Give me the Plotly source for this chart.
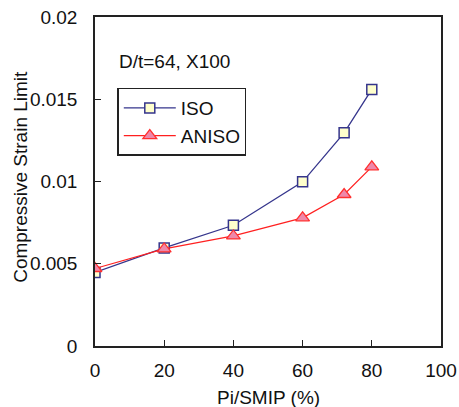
import plotly.graph_objects as go

x_iso = [0, 20, 40, 60, 72, 80]
y_iso = [0.00447, 0.00596, 0.00734, 0.00998, 0.01296, 0.0156]
x_aniso = [0, 20, 40, 60, 72, 80]
y_aniso = [0.00471, 0.0059, 0.00669, 0.00779, 0.00921, 0.01089]

y_ticks = [0, 0.005, 0.01, 0.015, 0.02]
y_ticktext = ["0", "0.005", "0.01", "0.015", "0.02"]
x_ticks = [0, 20, 40, 60, 80, 100]

font = "Liberation Sans, Arial, sans-serif"

fig = go.Figure()
fig.add_trace(go.Scatter(
    x=x_iso, y=y_iso, name="ISO", mode="lines+markers",
    line=dict(color="#35358C", width=1.3),
    marker=dict(symbol="square", size=10, color="#FFFFCC",
                line=dict(color="#35358C", width=1.5)),
))
fig.add_trace(go.Scatter(
    x=x_aniso, y=y_aniso, name="ANISO", mode="lines+markers",
    line=dict(color="#FF2020", width=1.2),
    marker=dict(symbol="triangle-up", size=12, color="#EE88AA",
                line=dict(color="#FF3030", width=1.3)),
))

fig.update_layout(
    width=459, height=407,
    margin=dict(l=95, r=18, t=17, b=61),
    paper_bgcolor="white", plot_bgcolor="white",
    font=dict(family=font, size=19, color="#111"),
    showlegend=True,
    legend=dict(x=0.065, y=0.785, xanchor="left", yanchor="top",
                bordercolor="#222", borderwidth=1.3, bgcolor="white",
                font=dict(size=19), tracegroupgap=0, itemwidth=52),
    annotations=[
        dict(text="D/t=64, X100", x=0.063, y=0.865, xref="paper", yref="paper",
             xanchor="left", yanchor="middle", showarrow=False, font=dict(size=19)),
        dict(text="Pi/SMIP (%)", x=0.5, y=-0.157, xref="paper", yref="paper",
             xanchor="center", yanchor="middle", showarrow=False, font=dict(size=19)),
        dict(text="Compressive Strain Limit", x=-0.215, y=0.513, xref="paper", yref="paper",
             xanchor="center", yanchor="middle", textangle=-90, showarrow=False,
             font=dict(size=19)),
    ],
)
fig.update_xaxes(
    range=[0, 100], tickvals=x_ticks, ticks="inside", ticklen=6,
    tickcolor="#222", showline=True, linecolor="#222", linewidth=1.5,
    mirror=True, showgrid=False, zeroline=False, automargin=False,
    ticklabelstandoff=6, tickfont=dict(size=19),
)
fig.update_yaxes(
    range=[0, 0.02], tickvals=y_ticks, ticktext=y_ticktext, ticks="inside", ticklen=6,
    tickcolor="#222", showline=True, linecolor="#222", linewidth=1.5,
    mirror=True, showgrid=False, zeroline=False, automargin=False,
    ticklabelstandoff=12, tickfont=dict(size=19),
)

fig.write_html("out.html")
